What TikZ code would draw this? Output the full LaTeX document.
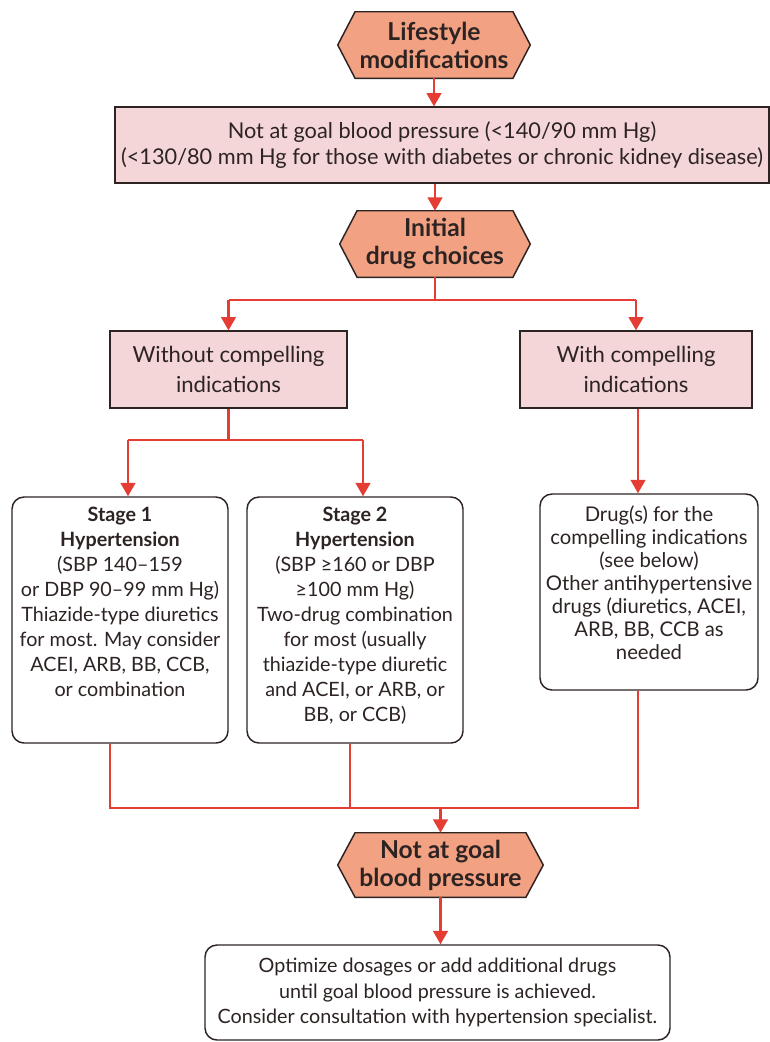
\documentclass[tikz,border=0pt]{standalone}
\usepackage{fontspec}
\setmainfont{Lato}
\usetikzlibrary{arrows.meta,calc}
\definecolor{hexfill}{RGB}{242,162,130}
\definecolor{pinkfill}{RGB}{244,214,216}
\definecolor{arrred}{RGB}{229,60,52}
\definecolor{edgegray}{RGB}{45,35,35}
\begin{document}
\begin{tikzpicture}[x=0.75pt,y=-0.75pt,
  hexnode/.style={inner sep=0pt,align=center,font=\fontsize{18.5}{21}\selectfont\bfseries,text=edgegray},
  pinkbox/.style={draw=edgegray,line width=0.9pt,fill=pinkfill,inner sep=0pt,align=center,text=edgegray},
  rbox/.style={draw=edgegray,line width=1.1pt,fill=white,rounded corners=9pt,inner sep=0pt},
  txt/.style={inner sep=0pt,align=center,font=\fontsize{14.8}{18.75}\selectfont,text=edgegray},
  link/.style={draw=arrred,line width=1.6pt},
  arr/.style={link,-{Triangle[width=11pt,length=10pt]}}
]
\useasboundingbox (0,0) rectangle (769,1042);
% hexagon helper
\newcommand{\hexagonbox}[1]{%
  \fill[hexfill,draw=edgegray,line width=1.1pt]
   (#1.west) -- ([xshift=13pt]#1.north west) -- ([xshift=-13pt]#1.north east)
   -- (#1.east) -- ([xshift=-13pt]#1.south east) -- ([xshift=13pt]#1.south west) -- cycle;}
% nodes
\node[hexnode,minimum width=144pt,minimum height=49.5pt] (life) at (434,45) {};
\hexagonbox{life}
\node[hexnode] (lifet) at (life) {Lifestyle\\modifications};

\node[pinkbox,minimum width=490.5pt,minimum height=57pt,font=\fontsize{16.3}{20}\selectfont] (goal) at (442,145)
  {Not at goal blood pressure (<140/90 mm Hg)\\(<130/80 mm Hg for those with diabetes or chronic kidney disease)};

\node[hexnode,minimum width=142.5pt,minimum height=49.5pt] (init) at (435,244) {};
\hexagonbox{init}
\node[hexnode] (initt) at (init) {Initial\\drug choices};

\node[pinkbox,minimum width=177.75pt,minimum height=57.75pt,font=\fontsize{16.6}{23}\selectfont] (without) at (228.5,369.5)
  {Without compelling\\indications};
\node[pinkbox,minimum width=174pt,minimum height=57.75pt,font=\fontsize{16.6}{23}\selectfont] (with) at (636,369.5)
  {With compelling\\indications};

\node[rbox,minimum width=162pt,minimum height=184.5pt] (s1) at (120,620) {};
\node[txt,anchor=north] (s1t) at ([yshift=-8pt]s1.north)
  {\textbf{Stage 1}\\\textbf{Hypertension}\\(SBP 140–159\\or DBP 90–99 mm Hg)\\Thiazide-type diuretics\\for most. May consider\\ACEI, ARB, BB, CCB,\\or combination};
\node[rbox,minimum width=162pt,minimum height=184.5pt] (s2) at (355,620) {};
\node[txt,anchor=north] (s2t) at ([yshift=-8pt]s2.north)
  {\textbf{Stage 2}\\\textbf{Hypertension}\\(SBP ≥160 or DBP\\≥100 mm Hg)\\Two-drug combination\\for most (usually\\thiazide-type diuretic\\and ACEI, or ARB, or\\BB, or CCB)};
\node[rbox,minimum width=163.5pt,minimum height=147pt] (drugs) at (649,592) {};
\node[txt,anchor=north,font=\fontsize{15.2}{17.3}\selectfont] (drugst) at ([yshift=-9pt]drugs.north)
  {Drug(s) for the\\compelling indications\\(see below)\\Other antihypertensive\\drugs (diuretics, ACEI,\\ARB, BB, CCB as\\needed};

\node[hexnode,minimum width=153.75pt,minimum height=48pt] (ngoal) at (440.5,865) {};
\hexagonbox{ngoal}
\node[hexnode] (ngoalt) at (ngoal) {Not at goal\\blood pressure};

\node[rbox,minimum width=348.75pt,minimum height=71.25pt] (final) at (437.5,992.5) {};
\node[txt,font=\fontsize{14.8}{19}\selectfont] (finalt) at (final)
  {Optimize dosages or add additional drugs\\until goal blood pressure is achieved.\\Consider consultation with hypertension specialist.};

% junction coordinates
\coordinate (j1) at (435,300);
\coordinate (j1l) at (228.5,300);
\coordinate (j1r) at (636,300);
\coordinate (j2) at (228.5,440);
\coordinate (j2l) at (128,440);
\coordinate (j2r) at (363,440);
\coordinate (j3l) at (110,808);
\coordinate (j3m) at (350,808);
\coordinate (j3c) at (440.5,808);
\coordinate (j3r) at (638,808);

% connectors
\draw[arr] (life.south) -- (life.south |- goal.north);
\draw[arr] (goal.south -| init.north) -- (init.north);
\draw[link] (init.south) -- (j1);
\draw[link] (j1l) -- (j1r);
\draw[arr] (j1l) -- (without.north);
\draw[arr] (j1r) -- (with.north);
\draw[link] (without.south) -- (j2);
\draw[link] (j2l) -- (j2r);
\draw[arr] (j2l) -- (j2l |- s1.north);
\draw[arr] (j2r) -- (j2r |- s2.north);
\draw[arr] (with.south -| j3r) -- (j3r |- drugs.north);
\draw[link] (s1.south -| j3l) -- (j3l) -- (j3r) -- (drugs.south -| j3r);
\draw[link] (s2.south -| j3m) -- (j3m);
\draw[arr] (j3c) -- (ngoal.north);
\draw[arr] (ngoal.south) -- (final.north -| ngoal.south);
\end{tikzpicture}
\end{document}
